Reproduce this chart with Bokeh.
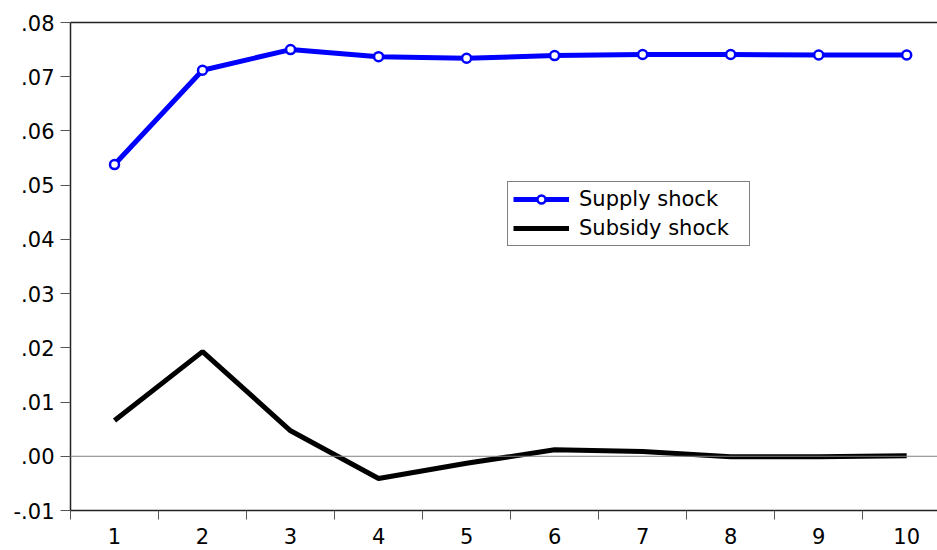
from bokeh.plotting import figure
from bokeh.models import (Range1d, FixedTicker, CustomJSTickFormatter, LinearAxis,
                          Span, Legend, LegendItem)
from bokeh.embed import file_html
from bokeh.resources import INLINE

periods = [1, 2, 3, 4, 5, 6, 7, 8, 9, 10]
supply_shock = [0.0538, 0.0712, 0.0750, 0.0737, 0.0734, 0.0739, 0.0741, 0.0741, 0.0740, 0.0740]
subsidy_shock = [0.0066, 0.0193, 0.0047, -0.0041, -0.0013, 0.0012, 0.0009, -0.0001, -0.0001, 0.0001]
y_ticks = [-0.01, 0.0, 0.01, 0.02, 0.03, 0.04, 0.05, 0.06, 0.07, 0.08]
x_boundaries = [p + 0.5 for p in [0] + periods]

FONT = "DejaVu Sans"
FS = "21px"

p = figure(width=937, height=550, output_backend="svg", toolbar_location=None,
           x_range=Range1d(0.5, 10.35), y_range=Range1d(-0.01, 0.08),
           min_border_left=70, min_border_top=22, min_border_bottom=40, min_border_right=0)
p.outline_line_color = None
p.xgrid.visible = False
p.ygrid.visible = False
p.background_fill_color = "white"

# zero line
p.add_layout(Span(location=0, dimension="width", line_color="#808080", line_width=1))

# series
r_sub = p.line(periods, subsidy_shock, line_color="black", line_width=5)
r_sup = p.line(periods, supply_shock, line_color="#0000FF", line_width=5)
r_sup_pts = p.scatter(periods, supply_shock, marker="circle", size=9,
                      fill_color="white", line_color="#0000FF", line_width=2.5)

# y axis
ya = p.yaxis[0]
ya.ticker = FixedTicker(ticks=y_ticks, minor_ticks=[])
ya.formatter = CustomJSTickFormatter(code="""
    var s = tick.toFixed(2);
    return s.replace('0.', '.');
""")
ya.axis_line_color = "#222222"
ya.axis_line_width = 1.5
ya.major_tick_line_color = "#555555"
ya.major_tick_out = 10
ya.major_tick_in = 0
ya.minor_tick_line_color = None
ya.major_label_text_font = FONT
ya.major_label_text_font_size = FS
ya.major_label_text_color = "black"
ya.major_label_standoff = 6

# x axis
xa = p.xaxis[0]
xa.ticker = FixedTicker(ticks=periods, minor_ticks=x_boundaries)
xa.axis_line_color = "#222222"
xa.axis_line_width = 1.5
xa.major_tick_out = 0
xa.major_tick_in = 0
xa.minor_tick_out = 9
xa.minor_tick_in = 0
xa.minor_tick_line_color = "#555555"
xa.major_label_text_font = FONT
xa.major_label_text_font_size = FS
xa.major_label_text_color = "black"
xa.major_label_standoff = 8

# top frame line
top = LinearAxis(major_tick_out=0, major_tick_in=0, minor_tick_out=0, minor_tick_in=0,
                 major_label_text_font_size="0px", major_label_standoff=0,
                 axis_line_color="#222222", axis_line_width=1.5,
                 major_tick_line_color=None, minor_tick_line_color=None)
top.ticker = FixedTicker(ticks=[])
p.add_layout(top, "above")

legend = Legend(items=[LegendItem(label="Supply shock", renderers=[r_sup, r_sup_pts]),
                       LegendItem(label="Subsidy shock", renderers=[r_sub])],
                location=(437, 264), orientation="vertical",
                label_text_font=FONT, label_text_font_size=FS, label_text_color="black",
                glyph_width=56, glyph_height=20, label_height=20, label_width=165,
                spacing=5, label_standoff=10, padding=5, margin=0,
                border_line_color="black", border_line_width=1,
                background_fill_color="white", background_fill_alpha=1)
p.add_layout(legend, "center")

open("out.html", "w").write(file_html(p, INLINE))
